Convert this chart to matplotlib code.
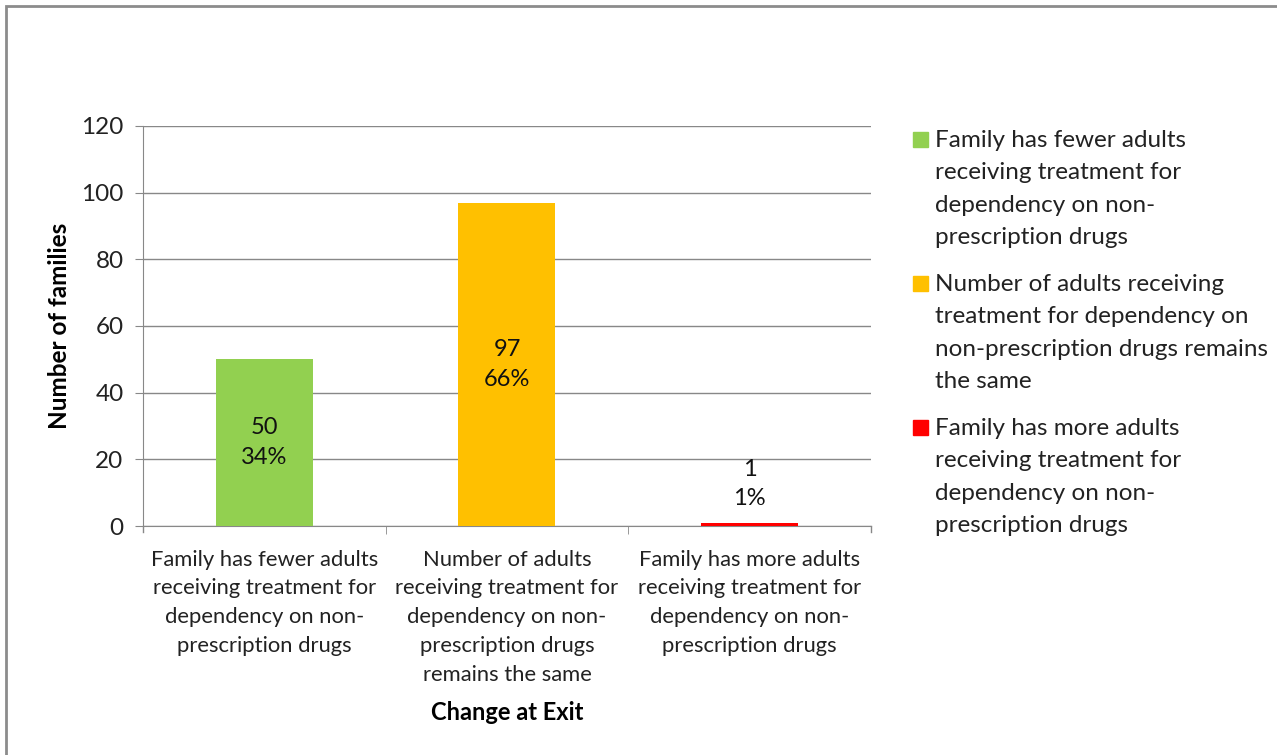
import matplotlib.pyplot as plt
from matplotlib.patches import Rectangle

plt.rcParams['font.family'] = ['Lato', 'DejaVu Sans']

categories = ['Family has fewer adults\nreceiving treatment for\ndependency on non-\nprescription drugs',
              'Number of adults\nreceiving treatment for\ndependency on non-\nprescription drugs\nremains the same',
              'Family has more adults\nreceiving treatment for\ndependency on non-\nprescription drugs']
legend_labels = ['Family has fewer adults\nreceiving treatment for\ndependency on non-\nprescription drugs',
                 'Number of adults receiving\ntreatment for dependency on\nnon-prescription drugs remains\nthe same',
                 'Family has more adults\nreceiving treatment for\ndependency on non-\nprescription drugs']
counts = [50, 97, 1]
percents = ['34%', '66%', '1%']
colors = ['#92D050', '#FFC000', '#FF0000']
yticks = [0, 20, 40, 60, 80, 100, 120]

fig = plt.figure(figsize=(12.77, 7.55), dpi=100)
fig.patches.append(Rectangle((0.005, -0.01), 1.2, 1.002, transform=fig.transFigure,
                             fill=False, edgecolor='#8c8c8c', linewidth=2))

ax = fig.add_axes([0.112, 0.3033, 0.570, 0.530])
x = list(range(len(counts)))
bars = ax.bar(x, counts, width=0.4, color=colors, zorder=3)

ax.set_xlim(-0.5, 2.5)
ax.set_ylim(0, 120)
ax.set_yticks(yticks)
ax.tick_params(axis='y', labelsize=17.5, length=6, color='#888888', labelcolor='#222222', pad=8)
ax.set_xticks(x)
ax.set_xticklabels(categories, fontsize=15.8, color='#222222', linespacing=1.55)
ax.tick_params(axis='x', length=0, pad=17)
ax.set_xticks([0.5, 1.5], minor=True)
ax.tick_params(axis='x', which='minor', length=6, color='#888888')
# outer boundary ticks
for xb in (-0.5, 2.5):
    ax.plot([xb, xb], [0, -1.8], color='#888888', lw=1, clip_on=False)
ax.grid(axis='y', color='#888888', lw=1, zorder=0)
for s in ('top', 'right'):
    ax.spines[s].set_visible(False)
for s in ('left', 'bottom'):
    ax.spines[s].set_color('#888888')

for i, (c, p) in enumerate(zip(counts, percents)):
    if c > 10:
        ax.text(i, c / 2, f'{c}\n{p}', ha='center', va='center', fontsize=17,
                color='#111111', linespacing=1.5, zorder=4)
    else:
        ax.text(i, c + 4, f'{c}\n{p}', ha='center', va='bottom', fontsize=17,
                color='#111111', linespacing=1.5, zorder=4)

ax.set_ylabel('Number of families', fontsize=17.5, fontweight='bold', labelpad=7)
ax.set_xlabel('Change at Exit', fontsize=17, fontweight='bold', labelpad=12)

# legend drawn by hand so markers line up with first text line
centers = [140, 284, 428]
for lab, col, cy in zip(legend_labels, colors, centers):
    cf = 1 - cy / 755
    fig.patches.append(Rectangle((913 / 1277, cf - 0.0099), 15 / 1277, 15 / 755,
                                 transform=fig.transFigure, color=col))
    fig.text(935 / 1277, cf + 0.0135, lab, fontsize=17.5, va='top', ha='left',
             color='#222222', linespacing=1.67)

fig.savefig('out.png', dpi=100)
